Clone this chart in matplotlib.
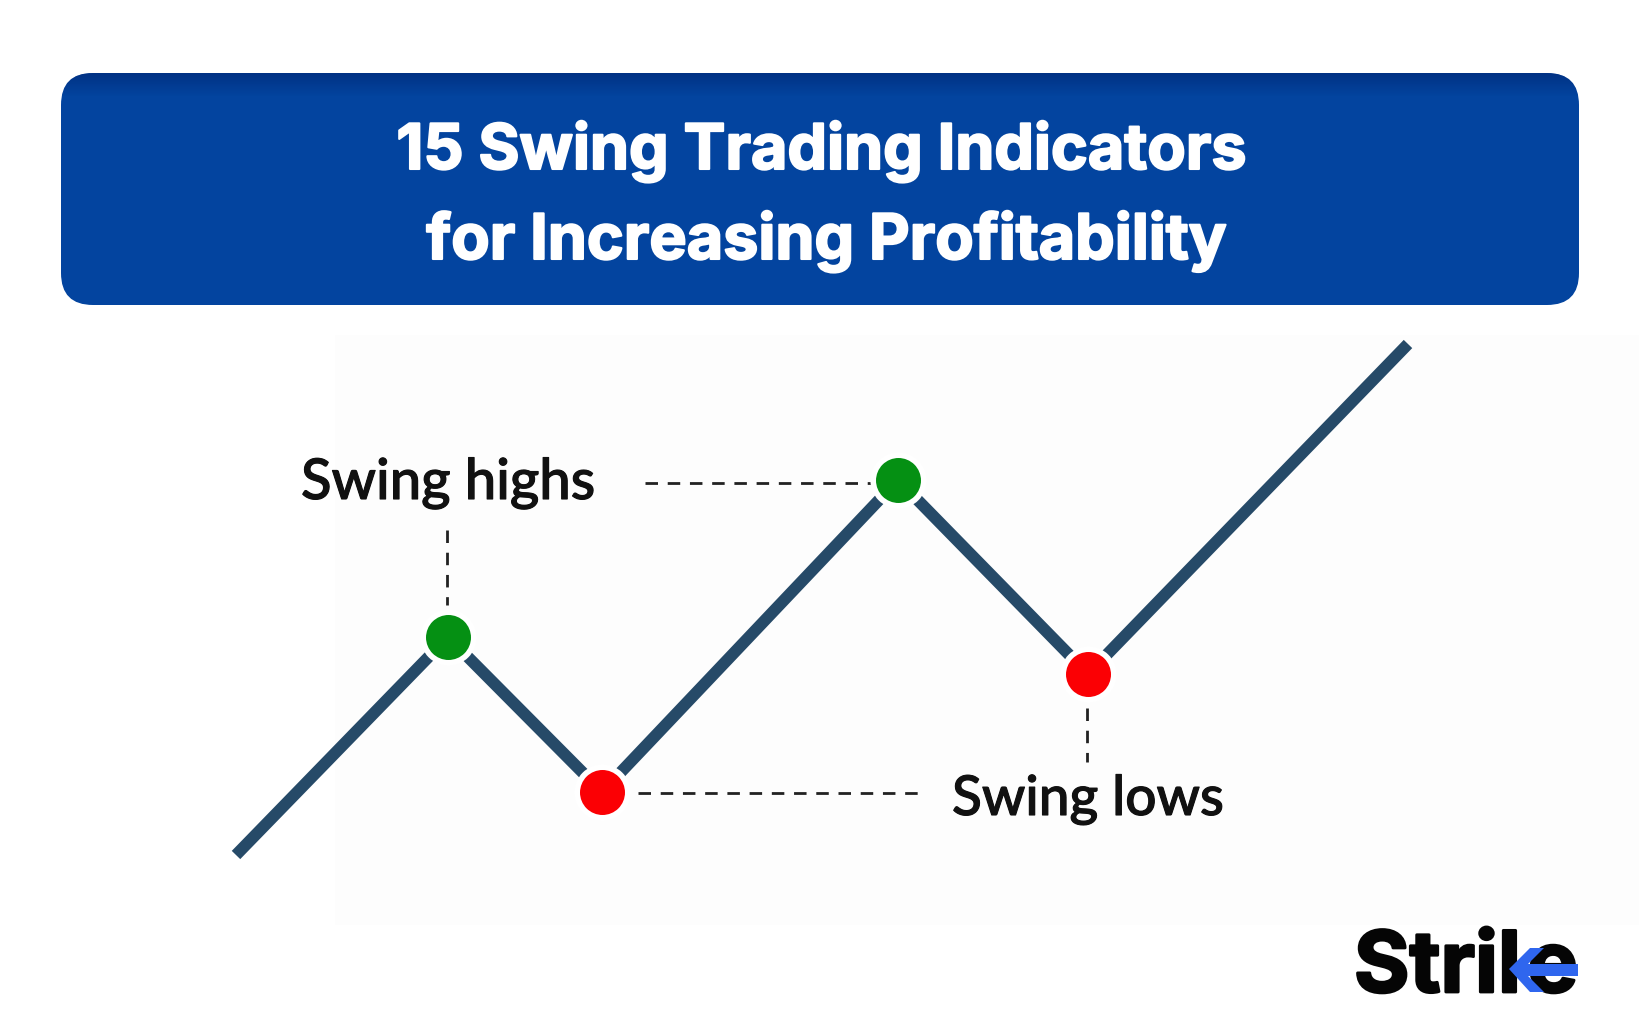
import numpy as np
from matplotlib import pyplot as plt
from matplotlib import patheffects as pe
from matplotlib.patches import FancyBboxPatch, Polygon, Rectangle

# price path, in picture pixels
path_x = [236, 448, 602, 898, 1088, 1408]
path_y = [855, 637, 792, 480, 674, 344]
high_x = [448, 898]
high_y = [637, 480]
low_x = [602, 1088]
low_y = [792, 674]

title_lines = ["15 Swing Trading Indicators", "for Increasing Profitability"]
title_x = [821, 826]
title_y = [169, 259]

fig = plt.figure(figsize=(16.4, 10.3), dpi=100)
ax = fig.add_axes([0, 0, 1, 1])
ax.set_xlim(0, 1640)
ax.set_ylim(1030, 0)
ax.axis('off')

# very faint grey behind the chart
ax.add_patch(Rectangle((335, 335), 1305, 590, fc='#fdfdfd', ec='none', zorder=0))

# banner
banner = FancyBboxPatch((61, 73), 1518, 232, boxstyle='round,pad=0,rounding_size=32',
                        fc='#03449f', ec='none', zorder=1)
ax.add_patch(banner)
shade = np.ones((24, 1, 4))
shade[:, :, 0] = 0.0
shade[:, :, 1] = 0.15
shade[:, :, 2] = 0.45
shade[:, :, 3] = np.linspace(0.6, 0, 24).reshape(24, 1)
im = ax.imshow(shade, extent=(61, 1580, 97, 73), aspect='auto', zorder=2)
im.set_clip_path(banner)
ax.set_xlim(0, 1640)
ax.set_ylim(1030, 0)

fat = [pe.withStroke(linewidth=1.5, foreground='white')]
for x, y, line in zip(title_x, title_y, title_lines):
    ax.text(x, y, line, color='white', fontsize=45.2, family='Inter', weight='bold',
            ha='center', va='baseline', zorder=3, path_effects=fat)

# dashed leaders
dash = dict(color='#222222', lw=2, ls=(0, (4.5, 3.5)), zorder=2)
ax.plot([645, 877], [483, 483], **dash)
ax.plot([447, 447], [530, 605], **dash)
ax.plot([638, 923], [793, 793], **dash)
ax.plot([1087, 1087], [708, 762], **dash)

ax.plot(path_x, path_y, color='#264a68', lw=8.5, solid_capstyle='butt', solid_joinstyle='miter', zorder=3)
ax.plot(high_x, high_y, 'o', ms=36.4, mfc='#059013', mec='white', mew=4, zorder=4)
ax.plot(low_x, low_y, 'o', ms=36.4, mfc='#fb0004', mec='white', mew=4, zorder=4)

thin = [pe.withStroke(linewidth=0.8, foreground='#111111')]
ax.text(301, 499, 'Swing highs', color='#111111', fontsize=40.5, family='Lato', weight='medium',
        ha='left', va='baseline', zorder=3, path_effects=thin)
ax.text(952, 815, 'Swing lows', color='#111111', fontsize=39.6, family='Lato', weight='medium',
        ha='left', va='baseline', zorder=3, path_effects=thin)

# logo
logo_fat = [pe.withStroke(linewidth=2, foreground='#050505')]
ax.text(1354, 992, 'Stril', color='#050505', fontsize=61, family='Inter', weight='bold',
        ha='left', va='baseline', zorder=3, path_effects=logo_fat)
ax.text(1578, 992, 'e', color='#050505', fontsize=61, family='Inter', weight='bold',
        ha='right', va='baseline', zorder=3, path_effects=logo_fat)
ax.add_patch(Polygon([(1509, 969), (1530, 948), (1544, 948), (1528, 964), (1578, 964), (1578, 976),
                      (1528, 976), (1544, 992), (1530, 992)], fc='#2f66ee', ec='none', zorder=4))

fig.savefig('out.png', dpi=100)
